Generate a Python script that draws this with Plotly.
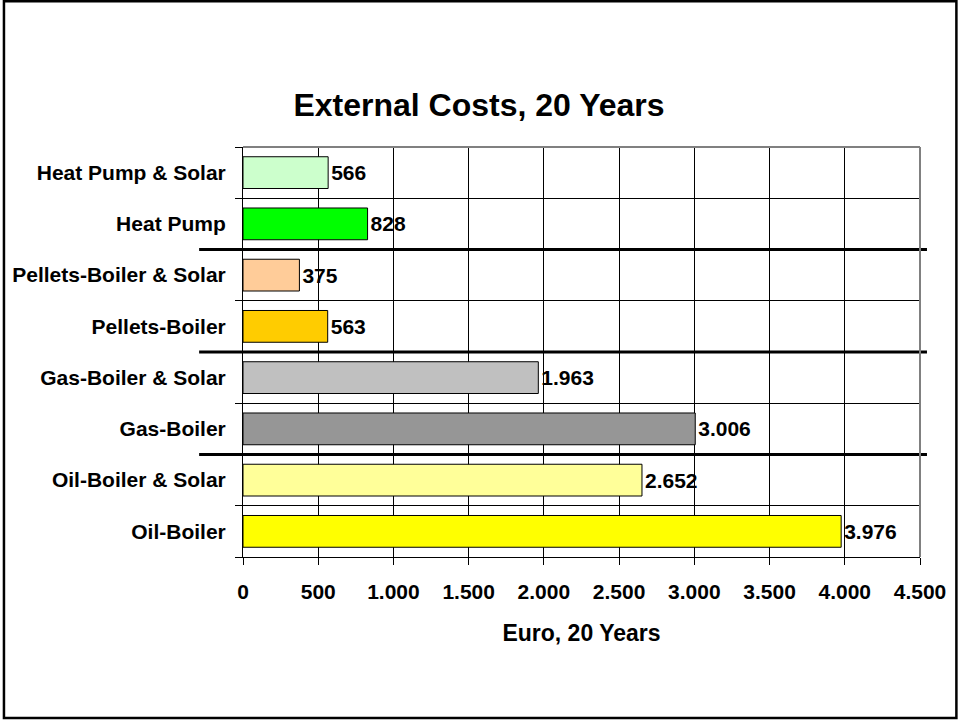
import plotly.graph_objects as go

# Heating systems, listed bottom to top as they appear on the chart
systems = [
    "Oil-Boiler",
    "Oil-Boiler & Solar",
    "Gas-Boiler",
    "Gas-Boiler & Solar",
    "Pellets-Boiler",
    "Pellets-Boiler & Solar",
    "Heat Pump",
    "Heat Pump & Solar",
]
external_costs = [3976, 2652, 3006, 1963, 563, 375, 828, 566]
bar_colors = [
    "#FFFF00",
    "#FFFF99",
    "#969696",
    "#C0C0C0",
    "#FFCC00",
    "#FFCC99",
    "#00FF00",
    "#CCFFCC",
]
x_ticks = [0, 500, 1000, 1500, 2000, 2500, 3000, 3500, 4000, 4500]
# boundaries between the technology groups
group_breaks = [1.5, 3.5, 5.5]

FONT = "Liberation Sans, Arial, sans-serif"

fig = go.Figure(
    go.Bar(
        y=systems,
        x=external_costs,
        orientation="h",
        width=0.62,
        marker=dict(color=bar_colors, line=dict(color="black", width=1)),
        texttemplate="%{x:,d}",
        textposition="outside",
        textfont=dict(family=FONT, size=21, color="black", weight="bold"),
        cliponaxis=False,
        hoverinfo="skip",
    )
)

# plot area geometry in pixels
L, R, T, B = 241, 920, 147, 557
W, H = R - L, B - T

shapes = []
for yb in group_breaks:
    shapes.append(dict(
        type="line", xref="paper", yref="y",
        x0=(197 - L) / W, x1=(927 - L) / W, y0=yb, y1=yb,
        line=dict(color="black", width=3), layer="above",
    ))
# top and right edges of the plot area
shapes.append(dict(type="line", xref="paper", yref="paper", x0=0, x1=1, y0=1, y1=1,
                   line=dict(color="#808080", width=2), layer="above"))
shapes.append(dict(type="line", xref="paper", yref="paper", x0=1, x1=1, y0=0, y1=1,
                   line=dict(color="#808080", width=2), layer="above"))
# frame around the whole figure
shapes.append(dict(
    type="rect", xref="paper", yref="paper",
    x0=(1.25 - L) / W, x1=(956.5 - L) / W,
    y0=(B - 718) / H, y1=(B - 1.25) / H,
    line=dict(color="black", width=2.5), fillcolor="rgba(0,0,0,0)", layer="above",
))

fig.update_layout(
    width=958,
    height=720,
    margin=dict(l=L, r=958 - R, t=T, b=720 - B),
    paper_bgcolor="white",
    plot_bgcolor="white",
    separators=",.",
    showlegend=False,
    font=dict(family=FONT, color="black", weight="bold"),
    title=dict(
        text="External Costs, 20 Years",
        x=0.5, xref="container", xanchor="center",
        y=1 - 105 / 720, yref="container", yanchor="middle",
        font=dict(family=FONT, size=32, color="black", weight="bold"),
    ),
    xaxis=dict(
        range=[0, 4500],
        tickvals=x_ticks,
        tickformat=",d",
        showgrid=True, gridcolor="black", gridwidth=1,
        showline=True, linecolor="black", linewidth=1,
        ticks="outside", ticklen=7, tickcolor="black",
        ticklabelstandoff=9,
        tickfont=dict(family=FONT, size=21, color="black", weight="bold"),
        zeroline=False,
        title=dict(text="Euro, 20 Years", standoff=22,
                   font=dict(family=FONT, size=23, color="black", weight="bold")),
    ),
    yaxis=dict(
        categoryorder="array", categoryarray=systems,
        range=[-0.5, 7.5],
        tickson="boundaries",
        showgrid=True, gridcolor="black", gridwidth=1,
        showline=True, linecolor="black", linewidth=1,
        ticks="outside", ticklen=7, tickcolor="black",
        ticklabelstandoff=12,
        tickfont=dict(family=FONT, size=21, color="black", weight="bold"),
    ),
    bargap=0.38,
)
fig.update_layout(shapes=shapes)

fig.write_html("out.html")
